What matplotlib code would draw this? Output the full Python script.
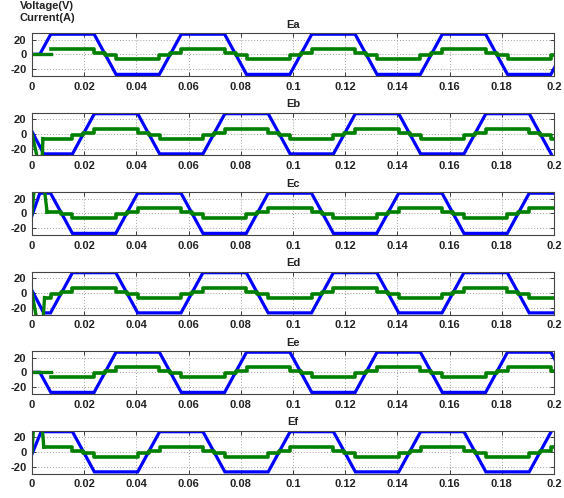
import numpy as np
import matplotlib
matplotlib.use("Agg")
import matplotlib.pyplot as plt

A = 27.3   # back-EMF plateau (V)
H = 6.5    # current plateau (A)
S = 1.5    # current step near commutation (A)

titles = ["Ea", "Eb", "Ec", "Ed", "Ee", "Ef"]

# Back-EMF corner points (time, volts)
ea_t = [0, 0.003, 0.0072, 0.0238, 0.0322, 0.0488, 0.0572, 0.0738, 0.0822, 0.0988, 0.1072, 0.1238, 0.1322, 0.1488, 0.1572, 0.1738, 0.1822, 0.1988, 0.2072]
ea_v = [0, 0, A, A, -A, -A, A, A, -A, -A, A, A, -A, -A, A, A, -A, -A, A]
eb_t = [0, 0.0045, 0.0155, 0.0239, 0.0405, 0.0489, 0.0655, 0.0739, 0.0905, 0.0989, 0.1155, 0.1239, 0.1405, 0.1489, 0.1655, 0.1739, 0.1905, 0.1989]
eb_v = [3, -A, -A, A, A, -A, -A, A, A, -A, -A, A, A, -A, -A, A, A, -A]
ec_t = [0, 0.003, 0.0071, 0.0155, 0.0321, 0.0405, 0.0571, 0.0655, 0.0821, 0.0905, 0.1071, 0.1155, 0.1321, 0.1405, 0.1571, 0.1655, 0.1821, 0.1905, 0.2071]
ec_v = [-3, A, A, -A, -A, A, A, -A, -A, A, A, -A, -A, A, A, -A, -A, A, A]
ed_t = [0, 0.0045, 0.0071, 0.0155, 0.0321, 0.0405, 0.0571, 0.0655, 0.0821, 0.0905, 0.1071, 0.1155, 0.1321, 0.1405, 0.1571, 0.1655, 0.1821, 0.1905, 0.2071]
ed_v = [3, -A, -A, A, A, -A, -A, A, A, -A, -A, A, A, -A, -A, A, A, -A, -A]
ee_t = [0, 0.003, 0.0072, 0.0238, 0.0322, 0.0488, 0.0572, 0.0738, 0.0822, 0.0988, 0.1072, 0.1238, 0.1322, 0.1488, 0.1572, 0.1738, 0.1822, 0.1988, 0.2072]
ee_v = [0, 0, -A, -A, A, A, -A, -A, A, A, -A, -A, A, A, -A, -A, A, A, -A]
ef_t = [0, 0.0035, 0.0155, 0.0239, 0.0405, 0.0489, 0.0655, 0.0739, 0.0905, 0.0989, 0.1155, 0.1239, 0.1405, 0.1489, 0.1655, 0.1739, 0.1905, 0.1989]
ef_v = [-3, A, A, -A, -A, A, A, -A, -A, A, A, -A, -A, A, A, -A, -A, A]

# Start-up current transients (time, amps)
ia0_t = [0, 0.0072]
ia0_v = [0.5, 0.5]
ib0_t = [0, 0.0025, 0.0038, 0.0042]
ib0_v = [0, -40, -40, -H]
ic0_t = [0, 0.001, 0.0045, 0.0058]
ic0_v = [0, 40, 40, S]
id0_t = [0, 0.002, 0.0042, 0.0048]
id0_v = [0, -40, -40, -H]
ie0_t = [0, 0.0072]
ie0_v = [0.5, 0.5]
if0_t = [0, 0.0007, 0.0038, 0.0045]
if0_v = [0, 40, 40, H]

# Phase current step edges (time, level held until next edge)
ia_t = [0.0072, 0.0238, 0.028, 0.0322, 0.0488, 0.053, 0.0572, 0.0738, 0.078, 0.0822, 0.0988, 0.103, 0.1072, 0.1238, 0.128, 0.1322, 0.1488, 0.153, 0.1572, 0.1738, 0.178, 0.1822, 0.1988, 0.2]
ia_v = [H, S, -S, -H, -S, S, H, S, -S, -H, -S, S, H, S, -S, -H, -S, S, H, S, -S, -H, -S, -S]
ib_t = [0.0042, 0.0155, 0.0197, 0.0239, 0.0405, 0.0447, 0.0489, 0.0655, 0.0697, 0.0739, 0.0905, 0.0947, 0.0989, 0.1155, 0.1197, 0.1239, 0.1405, 0.1447, 0.1489, 0.1655, 0.1697, 0.1739, 0.1905, 0.1947, 0.1989, 0.2]
ib_v = [-H, -S, S, H, S, -S, -H, -S, S, H, S, -S, -H, -S, S, H, S, -S, -H, -S, S, H, S, -S, -H, -H]
ic_t = [0.0058, 0.0113, 0.0155, 0.0321, 0.0363, 0.0405, 0.0571, 0.0613, 0.0655, 0.0821, 0.0863, 0.0905, 0.1071, 0.1113, 0.1155, 0.1321, 0.1363, 0.1405, 0.1571, 0.1613, 0.1655, 0.1821, 0.1863, 0.1905, 0.2]
ic_v = [S, -S, -H, -S, S, H, S, -S, -H, -S, S, H, S, -S, -H, -S, S, H, S, -S, -H, -S, S, H, H]
id_t = [0.0048, 0.0071, 0.0113, 0.0155, 0.0321, 0.0363, 0.0405, 0.0571, 0.0613, 0.0655, 0.0821, 0.0863, 0.0905, 0.1071, 0.1113, 0.1155, 0.1321, 0.1363, 0.1405, 0.1571, 0.1613, 0.1655, 0.1821, 0.1863, 0.1905, 0.2]
id_v = [-H, -S, S, H, S, -S, -H, -S, S, H, S, -S, -H, -S, S, H, S, -S, -H, -S, S, H, S, -S, -H, -H]
ie_t = [0.0072, 0.0238, 0.028, 0.0322, 0.0488, 0.053, 0.0572, 0.0738, 0.078, 0.0822, 0.0988, 0.103, 0.1072, 0.1238, 0.128, 0.1322, 0.1488, 0.153, 0.1572, 0.1738, 0.178, 0.1822, 0.1988, 0.2]
ie_v = [-H, -S, S, H, S, -S, -H, -S, S, H, S, -S, -H, -S, S, H, S, -S, -H, -S, S, H, S, S]
if_t = [0.0045, 0.0155, 0.0197, 0.0239, 0.0405, 0.0447, 0.0489, 0.0655, 0.0697, 0.0739, 0.0905, 0.0947, 0.0989, 0.1155, 0.1197, 0.1239, 0.1405, 0.1447, 0.1489, 0.1655, 0.1697, 0.1739, 0.1905, 0.1947, 0.1989, 0.2]
if_v = [H, S, -S, -H, -S, S, H, S, -S, -H, -S, S, H, S, -S, -H, -S, S, H, S, -S, -H, -S, S, H, H]

emf = [(ea_t, ea_v), (eb_t, eb_v), (ec_t, ec_v), (ed_t, ed_v), (ee_t, ee_v), (ef_t, ef_v)]
cur0 = [(ia0_t, ia0_v), (ib0_t, ib0_v), (ic0_t, ic0_v), (id0_t, id0_v), (ie0_t, ie0_v), (if0_t, if0_v)]
cur = [(ia_t, ia_v), (ib_t, ib_v), (ic_t, ic_v), (id_t, id_v), (ie_t, ie_v), (if_t, if_v)]

xticks = [0, 0.02, 0.04, 0.06, 0.08, 0.1, 0.12, 0.14, 0.16, 0.18, 0.2]
xticklabels = ["0", "0.02", "0.04", "0.06", "0.08", "0.1", "0.12", "0.14", "0.16", "0.18", "0.2"]
yticks = [-20, 0, 20]
yticklabels = ["-20", "0", "20"]

FONT = ["Liberation Sans Narrow", "Liberation Sans", "DejaVu Sans"]
plt.rcParams["font.family"] = FONT

W, Hp = 564, 498
fig = plt.figure(figsize=(W / 100, Hp / 100), dpi=100)
fig.patch.set_facecolor("white")

left_px, right_px = 32, 554
top0, step, ah = 33.3, 79.5, 42.7

for i in range(6):
    top = top0 + step * i
    ax = fig.add_axes([left_px / W, 1 - (top + ah) / Hp, (right_px - left_px) / W, ah / Hp])
    ax.set_xlim(0, 0.2)
    ax.set_ylim(-29.5, 28.5)
    ax.grid(True, color="#a0a0a0", linestyle=(0, (1, 2)), linewidth=0.7)
    t, v = emf[i]
    ax.plot(t, v, color="#0000ff", linewidth=2.3, solid_joinstyle="miter")
    t0, v0 = cur0[i]
    ax.plot(t0, v0, color="#008000", linewidth=2.4)
    tc, vc = cur[i]
    ax.step(tc, vc, where="post", color="#008000", linewidth=2.6)
    ax.set_xticks(xticks)
    ax.set_xticklabels(xticklabels)
    ax.set_yticks(yticks)
    ax.set_yticklabels(yticklabels)
    ax.tick_params(direction="in", length=3, width=0.6, top=True, right=True,
                   labelsize=8, pad=4, colors="#222222")
    for lab in ax.get_xticklabels() + ax.get_yticklabels():
        lab.set_fontweight("bold")
    for sp in ax.spines.values():
        sp.set_linewidth(0.8)
        sp.set_color("#444444")
    ax.set_title(titles[i], fontsize=8, fontweight="bold", pad=4, color="#222222")

fig.text(20 / W, 1 - 6 / Hp, "Voltage(V)", fontsize=8, fontweight="bold", va="center", ha="left", color="#222222")
fig.text(20 / W, 1 - 18 / Hp, "Current(A)", fontsize=8, fontweight="bold", va="center", ha="left", color="#222222")

fig.savefig("out.png", dpi=100, facecolor="white")
